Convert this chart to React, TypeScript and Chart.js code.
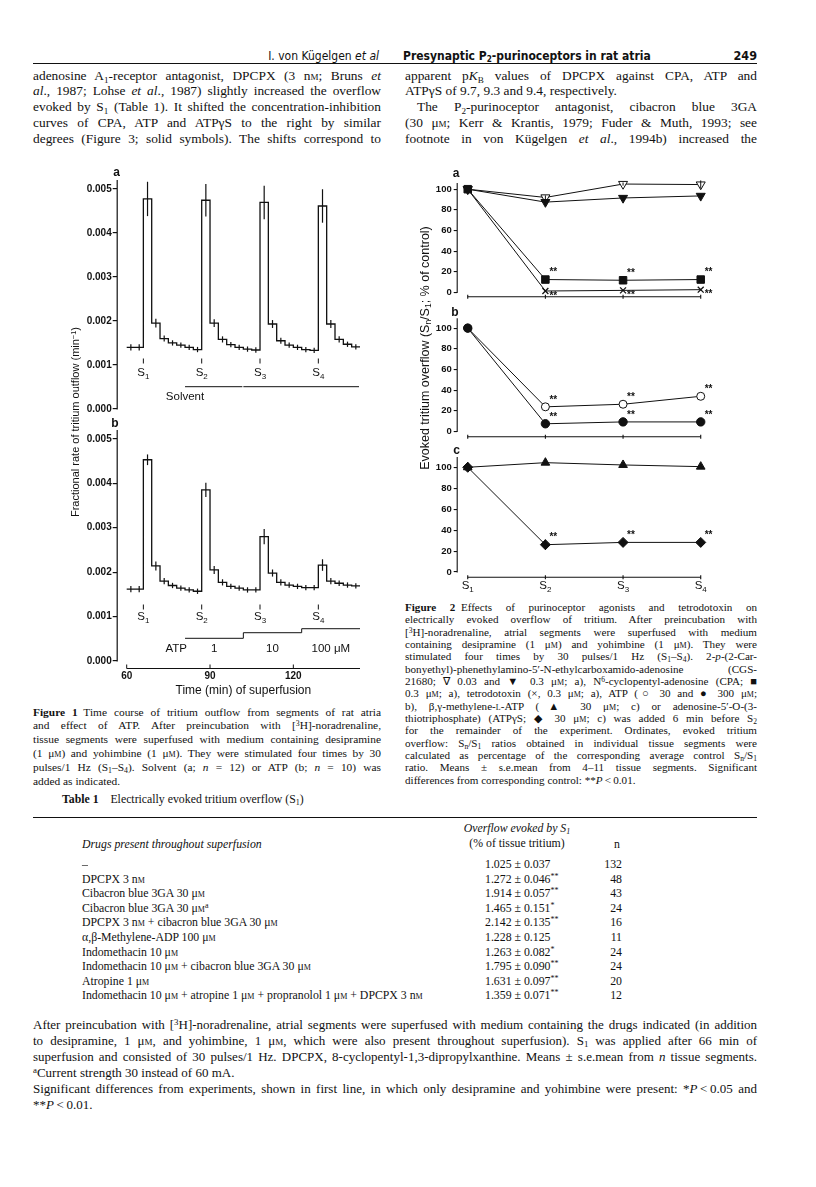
import React, { useEffect, useRef } from "react";
import { Chart, registerables } from "chart.js";

Chart.register(...registerables);

const SANS = "'Liberation Sans', Arial, Helvetica, sans-serif";
const NARROW = "'Liberation Sans Narrow', 'DejaVu Sans Condensed', 'Liberation Sans', Arial, sans-serif";
const SERIF = "'Liberation Serif', 'Times New Roman', Times, serif";
const INK = "#111";

// ---------------- Figure 1 data (fractional rate, min^-1) ----------------
const fig1BinStart = [60, 63, 66, 69, 72, 75, 78, 81, 84, 87, 90, 93, 96, 99, 102, 105, 108, 111, 114, 117, 120, 123, 126, 129, 132, 135, 138, 141];
const fig1LastBinEnd = 144;
const fig1StimTime = [66, 87, 108, 129];
const fig1StimLabel = ["1", "2", "3", "4"];
const fig1SolventRate = [
  0.0014, 0.0014,
  0.00477, 0.00195, 0.0016, 0.0015, 0.00145, 0.0014, 0.00135,
  0.00474, 0.00195, 0.00158, 0.00146, 0.0014, 0.00136, 0.00134,
  0.00469, 0.00193, 0.00155, 0.00145, 0.0014, 0.00135, 0.00133,
  0.00461, 0.00193, 0.00158, 0.00147, 0.00141,
];
const fig1SolventSem = [
  0.00007, 0.00007,
  0.00039, 0.0001, 0.00007, 0.00006, 0.00006, 0.00006, 0.00006,
  0.00037, 0.00009, 0.00007, 0.00006, 0.00006, 0.00006, 0.00006,
  0.00038, 0.00009, 0.00007, 0.00006, 0.00006, 0.00006, 0.00006,
  0.00038, 0.00009, 0.00007, 0.00006, 0.00006,
];
const fig1AtpRate = [
  0.00162, 0.00162,
  0.00453, 0.00214, 0.0018, 0.0017, 0.00164, 0.0016, 0.00157,
  0.00385, 0.00205, 0.00177, 0.00168, 0.00164, 0.0016, 0.0016,
  0.0028, 0.00198, 0.00177, 0.00171, 0.00168, 0.00165, 0.00165,
  0.00216, 0.0018, 0.00175, 0.00171, 0.00169,
];
const fig1AtpSem = [
  0.00007, 0.00007,
  0.00012, 0.0001, 0.00007, 0.00006, 0.00006, 0.00006, 0.00006,
  0.00016, 0.00009, 0.00007, 0.00006, 0.00006, 0.00006, 0.00006,
  0.00017, 0.00008, 0.00007, 0.00006, 0.00006, 0.00006, 0.00006,
  0.00013, 0.00007, 0.00006, 0.00006, 0.00006,
];
const fig1SolventFrom = [81, 102];
const fig1SolventTo = [102, 144];
const fig1AtpFrom = [81, 102, 123];
const fig1AtpTo = [102, 123, 144];
const fig1AtpConc = ["1", "10", "100 \u03bcM"];
const fig1XTicks = [60, 90, 120];
const fig1YTicks = [0, 0.001, 0.002, 0.003, 0.004, 0.005];

// ---------------- Figure 2 data (Sn/S1, % of control) ----------------
const fig2Stim = [1, 2, 3, 4];
const fig2StimLabel = ["1", "2", "3", "4"];
const fig2YTicks = [0, 20, 40, 60, 80, 100];
const cgs003 = [100, 92, 105, 104.5];
const cgs003Err = [0, 2, 1.5, 4];
const cgs03 = [100, 87.5, 91.5, 93.5];
const cgs03Err = [0, 2, 2, 2];
const cpa = [100, 12.5, 11.8, 12.5];
const cpaSig = ["", "**", "**", "**"];
const ttx = [100, 1.4, 2.0, 2.7];
const ttxSig = ["", "**", "**", "**"];
const atp30 = [100, 23.8, 26.3, 34];
const atp30Sig = ["", "**", "**", "**"];
const atp300 = [100, 7.4, 9.2, 9.2];
const atp300Sig = ["", "**", "**", "**"];
const bgmAtp = [100, 104.4, 102.2, 100.6];
const atpgs = [100, 26.1, 28.3, 28.3];
const atpgsErr = [0, 5, 2, 2];
const atpgsSig = ["", "**", "**", "**"];

// ---------------- Table 1 ----------------
const tableOverflow = [
  "1.025 \u00b1 0.037", "1.272 \u00b1 0.046", "1.914 \u00b1 0.057", "1.465 \u00b1 0.151", "2.142 \u00b1 0.135",
  "1.228 \u00b1 0.125", "1.263 \u00b1 0.082", "1.795 \u00b1 0.090", "1.631 \u00b1 0.097", "1.359 \u00b1 0.071",
];
const tableSig = ["", "**", "**", "*", "**", "", "*", "**", "**", "**"];
const tableN = ["132", "48", "43", "24", "16", "11", "24", "24", "20", "12"];

// ---------------- helpers ----------------
const M = () => <span style={{ fontVariant: "small-caps" }}>m</span>;
const Sub = ({ children }: { children: React.ReactNode }) => (
  <span style={{ fontSize: "0.68em", verticalAlign: "-0.28em", lineHeight: 0 }}>{children}</span>
);
const Sup = ({ children }: { children: React.ReactNode }) => (
  <span style={{ fontSize: "0.68em", verticalAlign: "0.45em", lineHeight: 0 }}>{children}</span>
);
const I = ({ children }: { children: React.ReactNode }) => <i>{children}</i>;

type Ln = { c: React.ReactNode; last?: boolean; indent?: number };

function Block(p: { x: number; y: number; w: number; size: number; lh: number; lines: Ln[]; font?: string }) {
  return (
    <div style={{ position: "absolute", left: p.x, top: p.y, width: p.w, fontFamily: p.font || SERIF, fontSize: p.size, lineHeight: `${p.lh}px`, color: INK }}>
      {p.lines.map((l, i) => (
        <div
          key={i}
          style={{
            height: p.lh,
            whiteSpace: "nowrap",
            textAlign: l.last ? "left" : "justify",
            textAlignLast: l.last ? "left" : "justify",
            paddingLeft: l.indent || 0,
          }}
        >
          {l.c}
        </div>
      ))}
    </div>
  );
}

function Txt(p: { x: number; y: number; size: number; children: React.ReactNode; font?: string; bold?: boolean; align?: "left" | "right" | "center"; italic?: boolean }) {
  const tx = p.align === "right" ? "-100%" : p.align === "center" ? "-50%" : "0";
  return (
    <div
      style={{
        position: "absolute",
        left: p.x,
        top: p.y,
        transform: `translate(${tx}, -50%)`,
        whiteSpace: "nowrap",
        fontFamily: p.font || SERIF,
        fontSize: p.size,
        fontWeight: p.bold ? "bold" : "normal",
        fontStyle: p.italic ? "italic" : "normal",
        lineHeight: 1,
        color: INK,
      }}
    >
      {p.children}
    </div>
  );
}

function drawSub(ctx: CanvasRenderingContext2D, base: string, sub: string, cx: number, cy: number, size: number) {
  ctx.font = `${size}px ${SANS}`;
  const wb = ctx.measureText(base).width;
  const subFont = `${Math.round(size * 0.68)}px ${SANS}`;
  ctx.font = subFont;
  const ws = ctx.measureText(sub).width;
  const x0 = cx - (wb + ws) / 2;
  ctx.textAlign = "left";
  ctx.textBaseline = "middle";
  ctx.font = `${size}px ${SANS}`;
  ctx.fillText(base, x0, cy);
  ctx.font = subFont;
  ctx.fillText(sub, x0 + wb, cy + size * 0.32);
}

function seg(ctx: CanvasRenderingContext2D, x1: number, y1: number, x2: number, y2: number) {
  ctx.beginPath();
  ctx.moveTo(x1, y1);
  ctx.lineTo(x2, y2);
  ctx.stroke();
}

// ---------------- Figure 1 plugin + config ----------------
const fig1Plugin = {
  id: "fig1deco",
  afterDatasetsDraw(chart: any, _a: any, opts: any) {
    const { ctx, chartArea: ca, scales } = chart;
    const X = (v: number) => scales.x.getPixelForValue(v);
    const Y = (v: number) => scales.y.getPixelForValue(v);
    const rate: number[] = opts.rate;
    const sem: number[] = opts.sem;
    const y0 = Y(0);
    ctx.save();
    ctx.strokeStyle = INK;
    ctx.fillStyle = INK;
    ctx.lineWidth = 1.2;
    seg(ctx, ca.left + 0.5, ca.top, ca.left + 0.5, y0 + 0.5);
    fig1BinStart.forEach((t, i) => {
      const end = i + 1 < fig1BinStart.length ? fig1BinStart[i + 1] : fig1LastBinEnd;
      const cx = X((t + end) / 2);
      seg(ctx, cx, Y(rate[i] - sem[i]), cx, Y(rate[i] + sem[i]));
    });
    ctx.lineWidth = 1;
    fig1StimTime.forEach((t, i) => {
      const cx = X(t);
      seg(ctx, cx, y0 - opts.sTick - 2.5, cx, y0 - opts.sTick + 2.5);
      drawSub(ctx, "S", fig1StimLabel[i], cx, y0 - opts.sLabel, 11.5);
    });
    ctx.font = `11.5px ${SANS}`;
    ctx.textBaseline = "middle";
    if (opts.panel === "a") {
      fig1SolventFrom.forEach((f, i) => seg(ctx, X(f), y0 - 22.3, X(fig1SolventTo[i]) - 1, y0 - 22.3));
      ctx.textAlign = "center";
      ctx.fillText("Solvent", X(fig1SolventFrom[0]), y0 - 12.5);
    } else {
      const lv = [22.7, 28.3, 32.3];
      fig1AtpFrom.forEach((f, i) => {
        seg(ctx, X(f), y0 - lv[i], X(fig1AtpTo[i]), y0 - lv[i]);
        if (i > 0) seg(ctx, X(f), y0 - lv[i - 1], X(f), y0 - lv[i]);
        ctx.textAlign = "center";
        ctx.fillText(fig1AtpConc[i], X((f + fig1AtpTo[i]) / 2), y0 - 11.7);
      });
      ctx.textAlign = "right";
      ctx.fillText("ATP", X(fig1AtpFrom[0]) + 2, y0 - 11.7);
      const by = ca.bottom - 0.5;
      seg(ctx, X(fig1XTicks[0]), by, X(fig1LastBinEnd), by);
      fig1XTicks.forEach((v) => seg(ctx, X(v), by, X(v), by - 4));
    }
    ctx.restore();
  },
};

function fig1Config(panel: "a" | "b") {
  const rate = panel === "a" ? fig1SolventRate : fig1AtpRate;
  const sem = panel === "a" ? fig1SolventSem : fig1AtpSem;
  const pts = fig1BinStart.map((t, i) => ({ x: t, y: rate[i] }));
  pts.push({ x: fig1LastBinEnd, y: rate[rate.length - 1] });
  const tickFont = { family: SANS, size: 10, weight: "bold" as const };
  const xScale: any = {
    type: "linear" as const,
    min: 56.4,
    max: 147.6,
    display: panel === "b",
    grid: { display: false, drawTicks: false },
    border: { display: false },
    afterBuildTicks: (s: any) => {
      s.ticks = fig1XTicks.map((v) => ({ value: v }));
    },
    ticks: { font: tickFont, color: INK, padding: 1, maxRotation: 0, autoSkip: false, callback: (v: any) => String(v) },
    title: { display: true, text: "Time (min) of superfusion", font: { family: SANS, size: 12 }, color: INK, padding: { top: 0, bottom: 2 } },
  };
  if (panel === "b") {
    xScale.afterFit = (s: any) => {
      s.height = 31;
    };
  }
  return {
    type: "line" as const,
    data: {
      datasets: [
        { data: pts, stepped: true, borderColor: INK, borderWidth: 1.3, pointRadius: 0, fill: false, clip: false as any },
      ],
    },
    options: {
      animation: false as const,
      responsive: false,
      devicePixelRatio: 1,
      events: [],
      layout: { padding: panel === "a" ? { top: 20, right: 10, bottom: 11, left: 0 } : { top: 10, right: 10, bottom: 0, left: 0 } },
      plugins: {
        legend: { display: false },
        tooltip: { enabled: false },
        fig1deco: panel === "a" ? { panel, rate, sem, sTick: 48, sLabel: 36.3 } : { panel, rate, sem, sTick: 54, sLabel: 44.3 },
      },
      scales: {
        x: xScale,
        y: {
          type: "linear" as const,
          min: panel === "a" ? 0 : -0.00018,
          max: 0.0052,
          afterFit: (s: any) => {
            s.width = 56.7;
          },
          afterBuildTicks: (s: any) => {
            s.ticks = fig1YTicks.map((v) => ({ value: v }));
          },
          grid: { display: true, drawOnChartArea: false, drawTicks: true, tickLength: 4, color: INK, lineWidth: 1.2 },
          border: { display: false },
          ticks: { font: tickFont, color: INK, padding: 1, callback: (v: any) => Number(v).toFixed(3) },
        },
      },
    },
    plugins: [fig1Plugin],
  };
}

// ---------------- Figure 2 plugin + config ----------------
const fig2Plugin = {
  id: "fig2deco",
  afterDatasetsDraw(chart: any, _a: any, opts: any) {
    const { ctx, chartArea: ca, scales } = chart;
    const X = (v: number) => scales.x.getPixelForValue(v);
    const Y = (v: number) => scales.y.getPixelForValue(v);
    ctx.save();
    ctx.strokeStyle = INK;
    ctx.fillStyle = INK;
    ctx.lineWidth = 1.1;
    seg(ctx, ca.left + 0.5, ca.top, ca.left + 0.5, Y(0) + 0.5);
    const by = ca.bottom - 0.5;
    seg(ctx, X(fig2Stim[0]), by, X(fig2Stim[fig2Stim.length - 1]), by);
    fig2Stim.forEach((s) => seg(ctx, X(s), by - 2, X(s), by + 2));
    ctx.lineWidth = 1;
    chart.data.datasets.forEach((ds: any) => {
      ds.data.forEach((p: any, i: number) => {
        const px = X(p.x);
        const py = Y(p.y);
        if (ds.err && ds.err[i]) seg(ctx, px, Y(p.y - ds.err[i]), px, Y(p.y + ds.err[i]));
        if (ds.sig && ds.sig[i]) {
          ctx.font = `bold 10px ${SANS}`;
          ctx.textAlign = "left";
          ctx.textBaseline = "middle";
          ctx.fillText(ds.sig[i], px + 4, ds.sigBelow ? py + 5 : py - 7);
        }
      });
    });
    if (opts.labels) {
      fig2Stim.forEach((s, i) => drawSub(ctx, "S", fig2StimLabel[i], X(s), ca.bottom + 8, 11.5));
    }
    ctx.restore();
  },
};

function series(vals: number[]) {
  return fig2Stim.map((s, i) => ({ x: s, y: vals[i] }));
}

function fig2Config(panel: "a" | "b" | "c") {
  const base = { borderColor: INK, borderWidth: 1, pointBorderColor: INK, pointBorderWidth: 1, fill: false, clip: false as any };
  let datasets: any[] = [];
  if (panel === "a") {
    datasets = [
      { ...base, data: series(cpa), pointStyle: "rect", pointRadius: 5.3, pointBackgroundColor: INK, sig: cpaSig, order: 1 },
      { ...base, data: series(ttx), pointStyle: "crossRot", pointRadius: 4.2, pointBorderWidth: 1.3, sig: ttxSig, sigBelow: true, order: 2 },
      { ...base, data: series(cgs03), pointStyle: "triangle", pointRotation: 180, pointRadius: 5.2, pointBackgroundColor: INK, err: cgs03Err, order: 0 },
      { ...base, data: series(cgs003), pointStyle: "triangle", pointRotation: 180, pointRadius: 5.2, pointBackgroundColor: "#fff", err: cgs003Err, order: 3 },
    ];
  } else if (panel === "b") {
    datasets = [
      { ...base, data: series(atp300), pointStyle: "circle", pointRadius: 4.2, pointBackgroundColor: INK, sig: atp300Sig, order: 0 },
      { ...base, data: series(atp30), pointStyle: "circle", pointRadius: 4, pointBackgroundColor: "#fff", sig: atp30Sig, order: 1 },
    ];
  } else {
    datasets = [
      { ...base, data: series(bgmAtp), pointStyle: "triangle", pointRadius: 5, pointBackgroundColor: INK, order: 1 },
      { ...base, data: series(atpgs), pointStyle: "rectRot", pointRadius: 5, pointBackgroundColor: INK, err: atpgsErr, sig: atpgsSig, order: 0 },
    ];
  }
  const geom = {
    a: { top: 13, bottom: 5, min: -4.7, max: 106 },
    b: { top: 13.3, bottom: 5.7, min: -5.7, max: 109.5 },
    c: { top: 12, bottom: 17.3, min: -5.4, max: 109.8 },
  }[panel];
  return {
    type: "line" as const,
    data: { datasets },
    options: {
      animation: false as const,
      responsive: false,
      devicePixelRatio: 1,
      events: [],
      layout: { padding: { top: geom.top, right: 30, bottom: geom.bottom, left: 0 } },
      plugins: { legend: { display: false }, tooltip: { enabled: false }, fig2deco: { labels: panel === "c" } },
      scales: {
        x: { type: "linear" as const, min: 0.858, max: 4.377, display: false },
        y: {
          type: "linear" as const,
          min: geom.min,
          max: geom.max,
          afterFit: (s: any) => {
            s.width = 56.7;
          },
          afterBuildTicks: (s: any) => {
            s.ticks = fig2YTicks.map((v) => ({ value: v }));
          },
          grid: { display: true, drawOnChartArea: false, drawTicks: true, tickLength: 3, color: INK, lineWidth: 1.1 },
          border: { display: false },
          ticks: { font: { family: SANS, size: 9.5, weight: "bold" as const }, color: INK, padding: 2, callback: (v: any) => String(v) },
        },
      },
    },
    plugins: [fig2Plugin],
  };
}

function ChartCanvas(p: { left: number; top: number; width: number; height: number; make: () => any }) {
  const ref = useRef<HTMLCanvasElement>(null);
  useEffect(() => {
    const chart = new Chart(ref.current as HTMLCanvasElement, p.make());
    return () => chart.destroy();
  }, []);
  return (
    <canvas
      ref={ref}
      width={p.width}
      height={p.height}
      style={{ position: "absolute", left: p.left, top: p.top, width: p.width, height: p.height }}
    />
  );
}

// ---------------- page ----------------
export default function App() {
  const L = 33;
  const LW = 348;
  const R = 405;
  const PR = 757;
  const RW = PR - R;
  const rowNames: React.ReactNode[] = [
    "\u2013",
    <>DPCPX 3 n<M /></>,
    <>Cibacron blue 3GA 30 {"\u03bc"}<M /></>,
    <>Cibacron blue 3GA 30 {"\u03bc"}<M /><Sup>a</Sup></>,
    <>DPCPX 3 n<M /> + cibacron blue 3GA 30 {"\u03bc"}<M /></>,
    <>{"\u03b1,\u03b2"}-Methylene-ADP 100 {"\u03bc"}<M /></>,
    <>Indomethacin 10 {"\u03bc"}<M /></>,
    <>Indomethacin 10 {"\u03bc"}<M /> + cibacron blue 3GA 30 {"\u03bc"}<M /></>,
    <>Atropine 1 {"\u03bc"}<M /></>,
    <>Indomethacin 10 {"\u03bc"}<M /> + atropine 1 {"\u03bc"}<M /> + propranolol 1 {"\u03bc"}<M /> + DPCPX 3 n<M /></>,
  ];
  const mu = "\u03bc";
  return (
    <div style={{ position: "absolute", left: 0, top: 0, width: 816, height: 1187, background: "#fff", overflow: "hidden" }}>
      {/* running head */}
      <Txt x={L + LW - 2} y={55.5} size={12} font={NARROW} align="right">
        I. von K{"\u00fc"}gelgen <I>et al</I>
      </Txt>
      <Txt x={R - 2} y={55.5} size={12} font={NARROW} bold>
        Presynaptic P<Sub>2</Sub>-purinoceptors in rat atria
      </Txt>
      <Txt x={PR} y={55.5} size={12.5} font={NARROW} bold align="right">
        249
      </Txt>
      <div style={{ position: "absolute", left: L, top: 62.5, width: PR - L, height: 1.5, background: INK }} />

      {/* body text */}
      <Block
        x={L}
        y={67.5}
        w={LW}
        size={13.4}
        lh={15.9}
        lines={[
          { c: <>adenosine A<Sub>1</Sub>-receptor antagonist, DPCPX (3 n<M />; Bruns <I>et</I></> },
          { c: <><I>al</I>., 1987; Lohse <I>et al</I>., 1987) slightly increased the overflow</> },
          { c: <>evoked by S<Sub>1</Sub> (Table 1). It shifted the concentration-inhibition</> },
          { c: <>curves of CPA, ATP and ATP{"\u03b3"}S to the right by similar</> },
          { c: <>degrees (Figure 3; solid symbols). The shifts correspond to</> },
        ]}
      />
      <Block
        x={R}
        y={67.5}
        w={RW}
        size={13.4}
        lh={15.9}
        lines={[
          { c: <>apparent p<I>K</I><Sub>B</Sub> values of DPCPX against CPA, ATP and</> },
          { c: <>ATP{"\u03b3"}S of 9.7, 9.3 and 9.4, respectively.</>, last: true },
          { c: <>The P<Sub>2</Sub>-purinoceptor antagonist, cibacron blue 3GA</>, indent: 12 },
          { c: <>(30 {mu}<M />; Kerr &amp; Krantis, 1979; Fuder &amp; Muth, 1993; see</> },
          { c: <>footnote in von K{"\u00fc"}gelgen <I>et al</I>., 1994b) increased the</> },
        ]}
      />

      {/* Figure 1 */}
      <ChartCanvas left={60} top={160} width={320} height={260} make={() => fig1Config("a")} />
      <ChartCanvas left={60} top={420} width={320} height={280} make={() => fig1Config("b")} />
      <Txt x={116.5} y={172} size={12} font={SANS} bold align="center">a</Txt>
      <Txt x={115} y={423} size={12} font={SANS} bold align="center">b</Txt>
      <div
        style={{
          position: "absolute",
          left: 75,
          top: 421.5,
          transform: "translate(-50%, -50%) rotate(-90deg)",
          whiteSpace: "nowrap",
          fontFamily: SANS,
          fontSize: 11,
          color: INK,
        }}
      >
        Fractional rate of tritium outflow (min<Sup>{"\u22121"}</Sup>)
      </div>

      <Block
        x={L}
        y={705.6}
        w={LW}
        size={11.4}
        lh={13.8}
        lines={[
          { c: <><b>Figure 1</b>{"\u2002"}Time course of tritium outflow from segments of rat atria</> },
          { c: <>and effect of ATP. After preincubation with [<Sup>3</Sup>H]-noradrenaline,</> },
          { c: <>tissue segments were superfused with medium containing desipramine</> },
          { c: <>(1 {mu}<M />) and yohimbine (1 {mu}<M />). They were stimulated four times by 30</> },
          { c: <>pulses/1 Hz (S<Sub>1</Sub>{"\u2013"}S<Sub>4</Sub>). Solvent (a; <I>n</I> = 12) or ATP (b; <I>n</I> = 10) was</> },
          { c: <>added as indicated.</>, last: true },
        ]}
      />

      {/* Figure 2 */}
      <ChartCanvas left={400} top={170} width={360} height={135} make={() => fig2Config("a")} />
      <ChartCanvas left={400} top={305} width={360} height={140} make={() => fig2Config("b")} />
      <ChartCanvas left={400} top={445} width={360} height={150} make={() => fig2Config("c")} />
      <Txt x={456} y={173} size={12} font={SANS} bold align="center">a</Txt>
      <Txt x={455} y={311.7} size={12} font={SANS} bold align="center">b</Txt>
      <Txt x={456.7} y={450} size={12} font={SANS} bold align="center">c</Txt>
      <div
        style={{
          position: "absolute",
          left: 425,
          top: 348,
          transform: "translate(-50%, -50%) rotate(-90deg)",
          whiteSpace: "nowrap",
          fontFamily: SANS,
          fontSize: 12.5,
          color: INK,
        }}
      >
        Evoked tritium overflow (S<Sub>n</Sub>/S<Sub>1</Sub>; % of control)
      </div>

      <Block
        x={R}
        y={600.8}
        w={RW}
        size={11.1}
        lh={12.36}
        lines={[
          { c: <><b>Figure 2</b>{"\u2002"}Effects of purinoceptor agonists and tetrodotoxin on</> },
          { c: <>electrically evoked overflow of tritium. After preincubation with</> },
          { c: <>[<Sup>3</Sup>H]-noradrenaline, atrial segments were superfused with medium</> },
          { c: <>containing desipramine (1 {mu}<M />) and yohimbine (1 {mu}<M />). They were</> },
          { c: <>stimulated four times by 30 pulses/1 Hz (S<Sub>1</Sub>{"\u2013"}S<Sub>4</Sub>). 2-<I>p</I>-(2-Car-</> },
          { c: <>bonyethyl)-phenethylamino-5{"\u2032"}-N-ethylcarboxamido-adenosine (CGS-</> },
          { c: <>21680; {"\u2207"} 0.03 and {"\u25bc"} 0.3 {mu}<M />; a), N<Sup>6</Sup>-cyclopentyl-adenosine (CPA; {"\u25a0"}</> },
          { c: <>0.3 {mu}<M />; a), tetrodotoxin ({"\u00d7"}, 0.3 {mu}<M />; a), ATP ({"\u25cb"} 30 and {"\u25cf"} 300 {mu}<M />;</> },
          { c: <>b), {"\u03b2,\u03b3"}-methylene-<span style={{ fontVariant: "small-caps" }}>l</span>-ATP ({"\u25b2"} 30 {mu}<M />; c) or adenosine-5{"\u2032"}-O-(3-</> },
          { c: <>thiotriphosphate) (ATP{"\u03b3"}S; {"\u25c6"} 30 {mu}<M />; c) was added 6 min before S<Sub>2</Sub></> },
          { c: <>for the remainder of the experiment. Ordinates, evoked tritium</> },
          { c: <>overflow: S<Sub>n</Sub>/S<Sub>1</Sub> ratios obtained in individual tissue segments were</> },
          { c: <>calculated as percentage of the corresponding average control S<Sub>n</Sub>/S<Sub>1</Sub></> },
          { c: <>ratio. Means {"\u00b1"} s.e.mean from 4{"\u2013"}11 tissue segments. Significant</> },
          { c: <>differences from corresponding control: **<I>P</I>{"\u2009<\u2009"}0.01.</>, last: true },
        ]}
      />

      {/* Table 1 */}
      <Txt x={62} y={800} size={11.8}>
        <b>Table 1</b>{"\u2003"}Electrically evoked tritium overflow (S<Sub>1</Sub>)
      </Txt>
      <div style={{ position: "absolute", left: L, top: 816.5, width: PR - L, height: 1.5, background: INK }} />
      <Txt x={517} y={829} size={11.8} italic align="center">
        Overflow evoked by S<Sub>1</Sub>
      </Txt>
      <Txt x={517} y={843.5} size={11.8} align="center">
        (% of tissue tritium)
      </Txt>
      <Txt x={82} y={845} size={11.8} italic>
        Drugs present throughout superfusion
      </Txt>
      <Txt x={617} y={845} size={11.8} align="center">
        n
      </Txt>
      {rowNames.map((nm, i) => (
        <React.Fragment key={i}>
          <Txt x={82} y={865 + i * 14.6} size={11.8}>
            {nm}
          </Txt>
          <Txt x={485} y={865 + i * 14.6} size={11.8}>
            {tableOverflow[i]}
            {tableSig[i] ? <Sup>{tableSig[i]}</Sup> : null}
          </Txt>
          <Txt x={622} y={865 + i * 14.6} size={11.8} align="right">
            {tableN[i]}
          </Txt>
        </React.Fragment>
      ))}

      <Block
        x={L}
        y={1017}
        w={PR - L}
        size={13}
        lh={16}
        lines={[
          { c: <>After preincubation with [<Sup>3</Sup>H]-noradrenaline, atrial segments were superfused with medium containing the drugs indicated (in addition</> },
          { c: <>to desipramine, 1 {mu}<M />, and yohimbine, 1 {mu}<M />, which were also present throughout superfusion). S<Sub>1</Sub> was applied after 66 min of</> },
          { c: <>superfusion and consisted of 30 pulses/1 Hz. DPCPX, 8-cyclopentyl-1,3-dipropylxanthine. Means {"\u00b1"} s.e.mean from <I>n</I> tissue segments.</> },
          { c: <><Sup>a</Sup>Current strength 30 instead of 60 mA.</>, last: true },
          { c: <>Significant differences from experiments, shown in first line, in which only desipramine and yohimbine were present: *<I>P</I>{"\u2009<\u2009"}0.05 and</> },
          { c: <>**<I>P</I>{"\u2009<\u2009"}0.01.</>, last: true },
        ]}
      />
    </div>
  );
}
